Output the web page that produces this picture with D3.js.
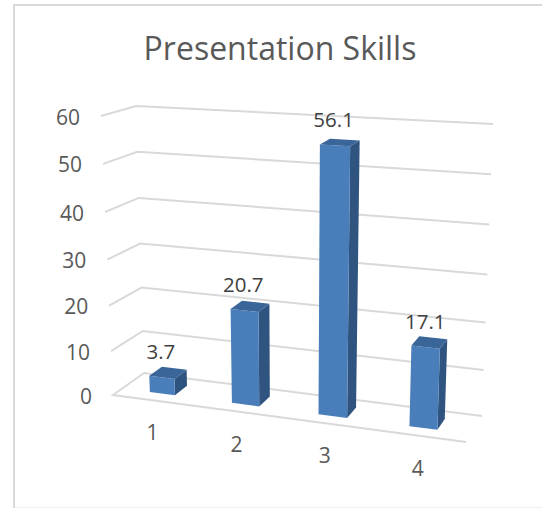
<!DOCTYPE html>
<html><head><meta charset="utf-8">
<script src="https://cdnjs.cloudflare.com/ajax/libs/d3/7.8.5/d3.min.js"></script>
<style>html,body{margin:0;background:#fff}svg{display:block}text{font-family:"Open Sans",sans-serif}</style>
</head><body><svg width="542" height="508"></svg>
<script>
const title = "Presentation Skills";
const categories = ["1","2","3","4"];
const values = [3.7,20.7,56.1,17.1];
const yTicks = [0,10,20,30,40,50,60];

const svg = d3.select("svg");
const grid = "#d9d9d9", txt = "#595959";

// plot-box corners of the 3D view
const corners = {
  fl:{x:d3.scaleLinear([0,60],[113,101]), y:d3.scaleLinear([0,60],[395,116])},
  fr:{x:d3.scaleLinear([0,60],[466,477]), y:d3.scaleLinear([0,60],[442,139])},
  bl:{x:d3.scaleLinear([0,60],[144,136]), y:d3.scaleLinear([0,60],[373,106])},
  br:{x:d3.scaleLinear([0,60],[482,493]), y:d3.scaleLinear([0,60],[416,124])}
};
// perspective foreshortening of the value axis and of the category axis
const vScale = d3.scaleLinear(yTicks,[0,9.45,19.2,29.1,39.35,49.7,60]);
const uWarp = d3.scaleLinear([0,.07,.15,.36,.61,.86,1],[0,.079,.151,.353,.603,.866,1]);
function project(uRaw,d,val){
  const v = vScale(val), u = uWarp(uRaw);
  const f = k => (corners.fl[k](v)*(1-u)+corners.fr[k](v)*u)*(1-d) + (corners.bl[k](v)*(1-u)+corners.br[k](v)*u)*d;
  return [f("x"),f("y")];
}
const xBand = d3.scaleBand(categories,[-0.015,0.985]).paddingInner(0.68).paddingOuter(0.34);
const dFront = 0.3, dBack = 0.72;
const line = d3.line();

// border
svg.append("path").attr("d","M14,508V5H542").attr("fill","none").attr("stroke",grid).attr("stroke-width",2);
svg.append("path").attr("d","M15,507.5H542").attr("fill","none").attr("stroke","#efefef").attr("stroke-width",1);

svg.append("text").attr("x",280).attr("y",60).attr("text-anchor","middle")
  .attr("font-size",32).attr("fill",txt).text(title);

// gridlines
yTicks.forEach(t=>{
  const pts = t===0 ? [[1,0],[0,0],[0,1],[1,1]] : [[0,0],[0,1],[1,1]];
  svg.append("path").attr("fill","none").attr("stroke",grid).attr("stroke-width",2)
    .attr("d",line(pts.map(([u,d])=>project(u,d,t))));
  const p = project(0,0,t);
  svg.append("text").attr("x",p[0]-21).attr("y",p[1]+8.5).attr("text-anchor","end")
    .attr("font-size",21).attr("fill",txt).text(t);
});

// category labels
categories.forEach(c=>{
  const u = xBand(c)+xBand.bandwidth()/2;
  const p = project(u,0,0);
  svg.append("text").attr("x",p[0]-1).attr("y",p[1]+40).attr("text-anchor","middle")
    .attr("font-size",21).attr("fill",txt).text(c);
});

// bars
const faces = [
  {c:"#2f5480", f:(a,b,v)=>[[b,dFront,0],[b,dBack,0],[b,dBack,v],[b,dFront,v]]},
  {c:"#4a7ebb", f:(a,b,v)=>[[a,dFront,0],[b,dFront,0],[b,dFront,v],[a,dFront,v]]},
  {c:"#3a6598", f:(a,b,v)=>[[a,dFront,v],[b,dFront,v],[b,dBack,v],[a,dBack,v]]}
];
categories.forEach((c,i)=>{
  const a = xBand(c), b = a+xBand.bandwidth(), v = values[i];
  faces.forEach(F=>{
    svg.append("path").attr("fill",F.c)
      .attr("d",line(F.f(a,b,v).map(q=>project(...q)))+"Z");
  });
  const top = project((a+b)/2,dFront,v);
  svg.append("text").attr("x",top[0]-1).attr("y",top[1]-18).attr("text-anchor","middle")
    .attr("font-size",20.5).attr("fill","#404040").text(v);
});
</script></body></html>
